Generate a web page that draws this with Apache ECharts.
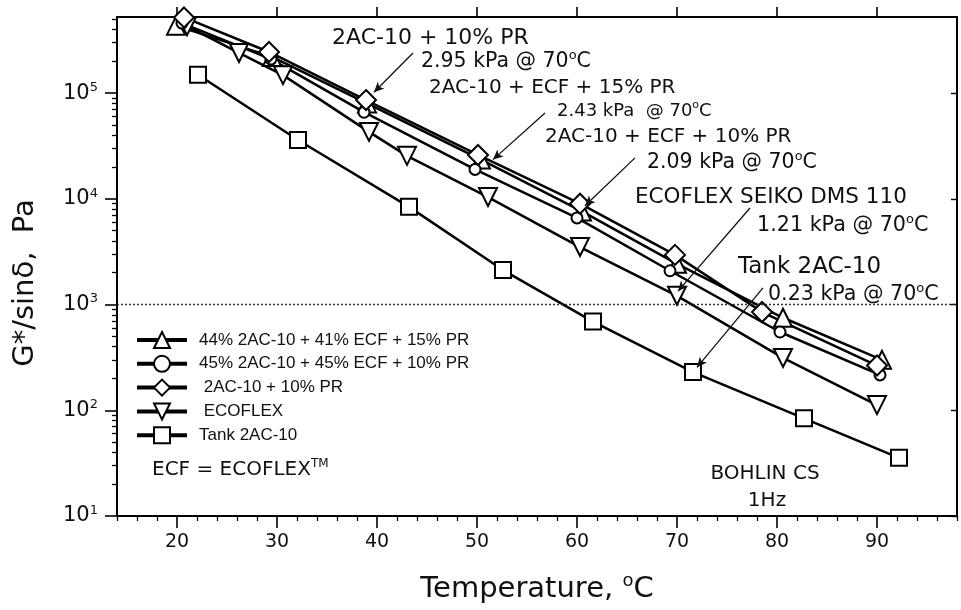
<!DOCTYPE html>
<html>
<head>
<meta charset="utf-8">
<script src="https://cdn.jsdelivr.net/npm/echarts@6/dist/echarts.min.js"></script>
<style>
  html, body { margin: 0; padding: 0; background: #fff; }
  #chart { width: 961px; height: 610px; }
</style>
</head>
<body>
<div id="chart"></div>
<script>
// ---- data: temperature (°C) and G*/sin(delta) (Pa) for each binder ----
const seriesNames = [
  '44% 2AC-10 + 41% ECF + 15% PR',
  '45% 2AC-10 + 45% ECF + 10% PR',
  ' 2AC-10 + 10% PR',
  ' ECOFLEX',
  'Tank 2AC-10'
];
const tempBlend15 = [19.9, 29.5, 39.0, 50.4, 60.5, 70.0, 80.6, 90.5];
const gBlend15    = [4.35e5, 2.2e5, 8.0e4, 2.35e4, 7.6e3, 2430, 750, 300];

const tempBlend10 = [20.5, 29.4, 38.7, 49.8, 60.0, 69.3, 80.3, 90.3];
const gBlend10    = [4.6e5, 2.1e5, 6.6e4, 1.9e4, 6.6e3, 2090, 550, 216];

const tempPR = [20.7, 29.2, 38.9, 50.1, 60.3, 69.8, 78.5, 90.0];
const gPR    = [5.2e5, 2.45e5, 8.6e4, 2.6e4, 9.0e3, 2950, 850, 265];

const tempEcoflex = [21.0, 26.2, 30.6, 39.2, 43.0, 51.1, 60.3, 70.0, 80.6, 90.0];
const gEcoflex    = [4.3e5, 2.4e5, 1.48e5, 4.3e4, 2.55e4, 1.04e4, 3.5e3, 1210, 313, 112];

const tempTank = [22.1, 32.1, 43.2, 52.6, 61.6, 71.6, 82.7, 92.2];
const gTank    = [1.49e5, 3.6e4, 8.4e3, 2.12e3, 690, 230, 84, 35.5];

// axis ticks
const tempMajorTicks = [20, 30, 40, 50, 60, 70, 80, 90];
const tempMinorTicks = [14, 16, 18, 22, 24, 26, 28, 32, 34, 36, 38, 42, 44, 46, 48,
  52, 54, 56, 58, 62, 64, 66, 68, 72, 74, 76, 78, 82, 84, 86, 88, 92, 94, 96, 98];
const gDecadeTicks = [10, 100, 1000, 10000, 100000];
const gMinorTicks = [20, 30, 40, 50, 60, 70, 80, 90,
  200, 300, 400, 500, 600, 700, 800, 900,
  2000, 3000, 4000, 5000, 6000, 7000, 8000, 9000,
  20000, 30000, 40000, 50000, 60000, 70000, 80000, 90000,
  200000, 300000, 400000, 500000];
const pgLimit = 1000; // 1 kPa criterion line

// ---- chart ----
const FONT = '"DejaVu Sans", "Liberation Sans", sans-serif';
const ARIAL = '"Liberation Sans", Arial, sans-serif';
const zip = (xs, ys) => xs.map((x, i) => [x, ys[i]]);
const kPa = v => (v / 1000).toFixed(2);

const chart = echarts.init(document.getElementById('chart'), null, { renderer: 'canvas' });

const xBase = { type: 'value', min: 14, max: 98, splitLine: { show: false } };
const yBase = { type: 'log', logBase: 10, min: 10, max: 5.25e5, splitLine: { show: false } };
const black = { color: '#000', width: 2 };

const arrowStyle = { color: '#111', width: 1.3, type: 'solid' };
function arrow(from, to) {
  return [{ coord: from }, { coord: to }];
}
function lineSeries(name, xs, ys, symbol, size, extra) {
  return Object.assign({
    name: name,
    type: 'line',
    data: zip(xs, ys),
    symbol: symbol,
    symbolSize: size,
    showAllSymbol: true,
    clip: false,
    lineStyle: { color: '#000', width: 2.5 },
    itemStyle: { color: '#fff', borderColor: '#000', borderWidth: 2 },
    emphasis: { disabled: true },
    animation: false
  }, extra || {});
}
function markArrows(list) {
  return {
    silent: true, animation: false,
    symbol: ['none', 'arrow'], symbolSize: [7, 10],
    label: { show: false },
    lineStyle: arrowStyle,
    data: list
  };
}

// superscript token: smaller glyphs lifted by bottom padding
function supStyle(size, family) {
  const s = Math.round(size * 0.62);
  return { fontSize: s, fontFamily: family, fill: '#111', color: '#111', padding: [0, 0, Math.round(size * 0.6), 0] };
}
function note(text, x, y, size, align, family) {
  const fam = family || FONT;
  return {
    type: 'text', x: x, y: y, silent: true,
    style: {
      text: text,
      fill: '#111',
      fontSize: size, fontFamily: fam,
      align: align || 'left', verticalAlign: 'middle',
      textAlign: align || 'left', textVerticalAlign: 'middle',
      rich: { o: supStyle(size, fam) }
    }
  };
}
const deg = '{o|o}';

const option = {
  backgroundColor: '#fff',
  animation: false,
  grid: { left: 117, right: 4, top: 17, bottom: 94 },
  xAxis: [
    Object.assign({}, xBase, {
      position: 'bottom',
      axisLine: { show: true, lineStyle: black },
      axisTick: { show: true, customValues: tempMajorTicks, length: 12, lineStyle: { color: '#000', width: 1.6 } },
      axisLabel: { customValues: tempMajorTicks, margin: 17, fontSize: 19, color: '#111', fontFamily: FONT },
      name: '{t|Temperature, }{o|o}{t|C}',
      nameLocation: 'middle',
      nameGap: 56,
      nameTextStyle: {
        color: '#111',
        rich: {
          t: { fontSize: 29, fontFamily: FONT, color: '#111' },
          o: supStyle(29, FONT)
        }
      }
    }),
    Object.assign({}, xBase, {
      position: 'bottom',
      axisLine: { show: false },
      axisTick: { show: true, customValues: tempMinorTicks, length: 5, lineStyle: { color: '#000', width: 1.3 } },
      axisLabel: { show: false }
    }),
    Object.assign({}, xBase, {
      position: 'top',
      axisLine: { show: true, lineStyle: black },
      axisTick: { show: true, customValues: tempMajorTicks, length: 10, lineStyle: { color: '#000', width: 1.6 } },
      axisLabel: { show: false }
    })
  ],
  yAxis: [
    Object.assign({}, yBase, {
      position: 'left',
      axisLine: { show: true, lineStyle: black },
      axisTick: { show: true, customValues: gDecadeTicks, length: 12, lineStyle: { color: '#000', width: 1.6 } },
      axisLabel: {
        customValues: gDecadeTicks,
        margin: 19,
        formatter: v => '{b|10}{s|' + Math.round(Math.log10(v)) + '}',
        rich: {
          b: { fontSize: 21, fontFamily: FONT, color: '#111' },
          s: { fontSize: 13, fontFamily: FONT, color: '#111', padding: [0, 0, 11, 0] }
        }
      }
    }),
    Object.assign({}, yBase, {
      position: 'left',
      axisLine: { show: false },
      axisTick: { show: true, customValues: gMinorTicks, length: 5, lineStyle: { color: '#000', width: 1.3 } },
      axisLabel: { show: false }
    }),
    Object.assign({}, yBase, {
      position: 'right',
      axisLine: { show: true, lineStyle: black },
      axisTick: { show: true, inside: true, customValues: gDecadeTicks, length: 6, lineStyle: { color: '#000', width: 1.4 } },
      axisLabel: { show: false }
    })
  ],
  legend: {
    data: seriesNames,
    orient: 'vertical',
    left: 135, top: 331,
    padding: 0,
    itemWidth: 50, itemHeight: 20, itemGap: 5.8,
    selectedMode: false,
    lineStyle: { width: 4 },
    textStyle: { fontSize: 17, fontFamily: ARIAL, color: '#111', padding: [0, 0, 0, 7] }
  },
  series: [
    lineSeries(seriesNames[4], tempTank, gTank, 'rect', 16, {
      markLine: {
        silent: true, animation: false, symbol: ['none', 'none'],
        label: { show: false },
        lineStyle: { type: [2, 2], color: '#333', width: 1.3 },
        data: [{ yAxis: pgLimit }]
      }
    }),
    lineSeries(seriesNames[3], tempEcoflex, gEcoflex, 'triangle', 18, {
      symbolRotate: 180,
      markLine: markArrows([
        arrow([77.3, 8200], [70.1, 1340]),
        arrow([78.6, 1440], [72.0, 255])
      ])
    }),
    lineSeries(seriesNames[0], tempBlend15, gBlend15, 'triangle', 18, {
      markLine: markArrows([arrow([56.8, 6.5e4], [51.6, 2.35e4])])
    }),
    lineSeries(seriesNames[1], tempBlend10, gBlend10, 'circle', 11, {
      markLine: markArrows([arrow([65.8, 2.44e4], [60.8, 8.6e3])])
    }),
    lineSeries(seriesNames[2], tempPR, gPR, 'diamond', 20, {
      markLine: markArrows([arrow([43.6, 2.4e5], [39.7, 1.02e5])])
    })
  ],
  graphic: [
    {
      type: 'text', x: 25, y: 283, rotation: Math.PI / 2, silent: true,
      style: {
        text: 'G*/sinδ,  Pa', fill: '#111', fontSize: 29, fontFamily: FONT,
        align: 'center', verticalAlign: 'middle', textAlign: 'center', textVerticalAlign: 'middle'
      }
    },
    note('2AC-10 + 10% PR', 332, 38, 22),
    note(kPa(gPR[5]) + ' kPa @ 70' + deg + 'C', 421, 62, 20.5),
    note('2AC-10 + ECF + 15% PR', 429, 88, 20),
    note(kPa(gBlend15[5]) + ' kPa  @ 70' + deg + 'C', 557, 111, 18),
    note('2AC-10 + ECF + 10% PR', 545, 137, 20),
    note(kPa(gBlend10[5]) + ' kPa @ 70' + deg + 'C', 647, 163, 20.5),
    note('ECOFLEX SEIKO DMS 110', 635, 197, 21.5),
    note(kPa(gEcoflex[7]) + ' kPa @ 70' + deg + 'C', 757, 226, 20.7),
    note('Tank 2AC-10', 738, 267, 23),
    note(kPa(gTank[5]) + ' kPa @ 70' + deg + 'C', 768, 295, 20.6),
    note('ECF = ECOFLEX{o|TM}', 152, 470, 20),
    note('BOHLIN CS', 765, 474, 20, 'center'),
    note('1Hz', 767, 501, 20, 'center')
  ]
};

chart.setOption(option);
</script>
</body>
</html>
